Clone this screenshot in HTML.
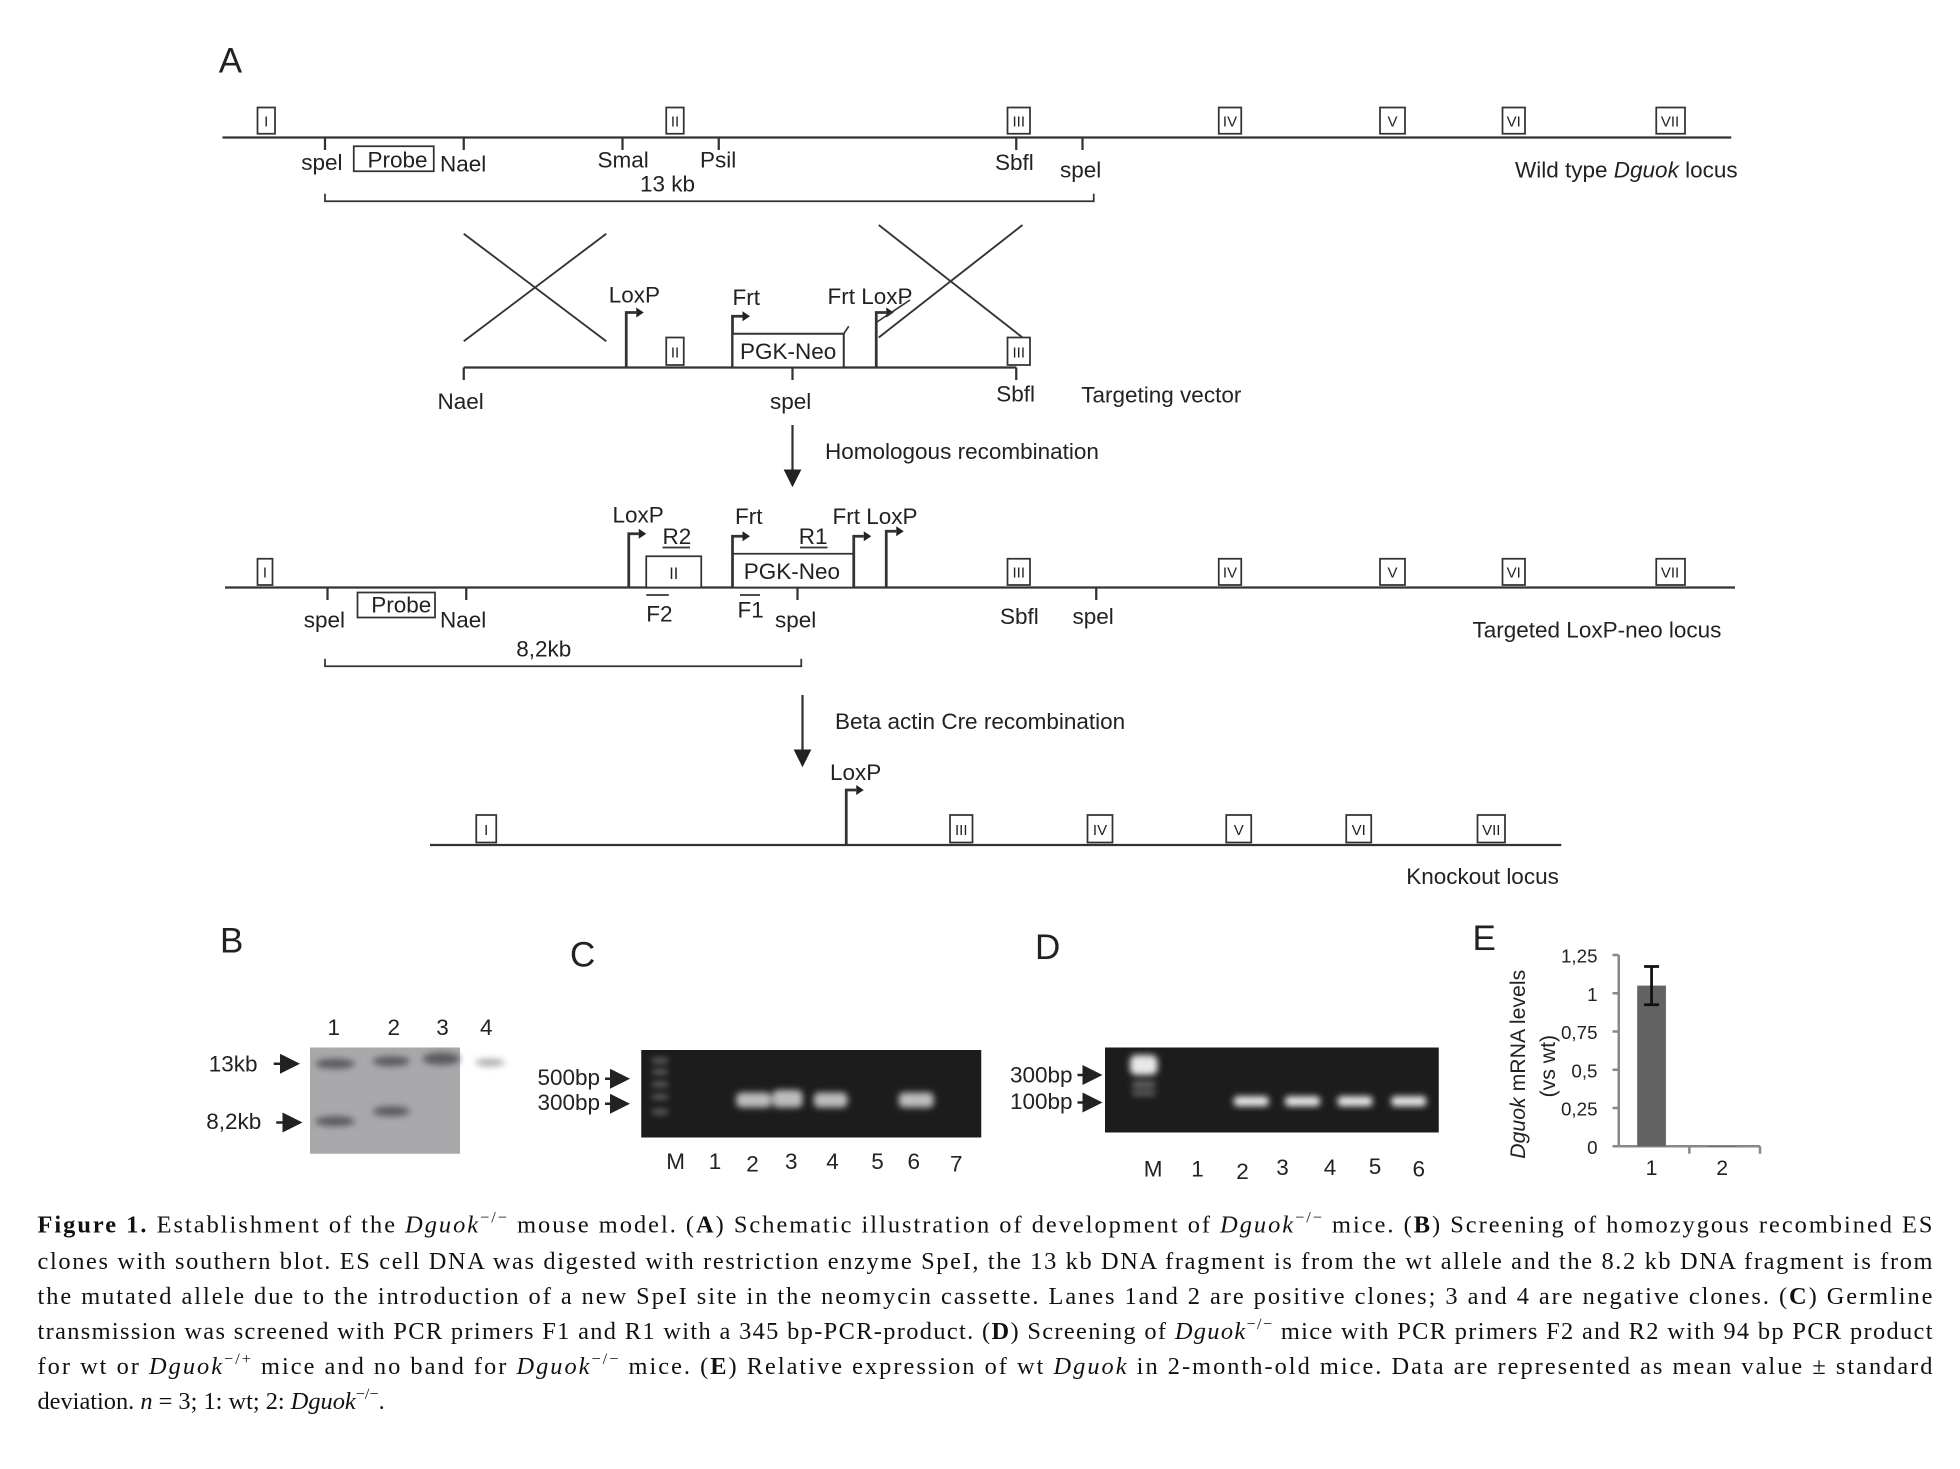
<!DOCTYPE html>
<html><head><meta charset="utf-8">
<style>
html,body{margin:0;padding:0;background:#fff;}
svg{display:block;}
.s{font-family:"Liberation Sans",sans-serif;fill:#222;}
.c{font-family:"Liberation Serif",serif;fill:#111;font-size:19.5px;}
</style></head>
<body>
<svg id="fig" width="1960" height="1469" viewBox="0 0 1568 1175.2" preserveAspectRatio="none" xmlns="http://www.w3.org/2000/svg">
<defs>
<marker id="ah" markerWidth="8" markerHeight="8" refX="7" refY="4" orient="auto"><path d="M0,0 L8,4 L0,8 z" fill="#222"/></marker>
<filter id="blur"><feGaussianBlur stdDeviation="2.5"/></filter>
</defs>
<g stroke="#333" stroke-width="1.8" fill="none">
<text class="s" x="175" y="58" font-size="28" stroke="none">A</text>
<line x1="178" y1="110" x2="1385" y2="110"/>
<g stroke-width="1.4">
<rect x="206" y="86" width="14" height="21" fill="#fff"/><rect x="533" y="86" width="14" height="21" fill="#fff"/><rect x="806" y="86" width="18" height="21" fill="#fff"/><rect x="975" y="86" width="18" height="21" fill="#fff"/><rect x="1104" y="86" width="20" height="21" fill="#fff"/><rect x="1202" y="86" width="18" height="21" fill="#fff"/><rect x="1325" y="86" width="23" height="21" fill="#fff"/>
</g>
<g class="s" font-size="12" stroke="none" text-anchor="middle"><text x="213" y="101">I</text><text x="540" y="101">II</text><text x="815" y="101">III</text><text x="984" y="101">IV</text><text x="1114" y="101">V</text><text x="1211" y="101">VI</text><text x="1336" y="101">VII</text></g>
<path d="M260,110v10M371,110v10M498,110v10M575,110v10M813,110v10M866,110v10"/>
<rect x="283" y="117" width="64" height="20" stroke-width="1.4"/>
<path d="M260,155v6H875v-6" stroke-width="1.4"/>
<g class="s" font-size="18" stroke="none">
<text x="241" y="136">spel</text><text x="294" y="134">Probe</text><text x="352" y="137">Nael</text><text x="478" y="134">Smal</text><text x="560" y="134">Psil</text><text x="512" y="153">13 kb</text><text x="796" y="136">Sbfl</text><text x="848" y="142">spel</text>
<text x="1212" y="142">Wild type <tspan font-style="italic">Dguok</tspan> locus</text>
</g>
<path d="M371,187L485,273M371,273L485,187M703,180L818,270M703,270L818,180" stroke-width="1.5"/>
<line x1="371" y1="294" x2="813" y2="294"/>
<path d="M371,294v10M634,294v10M813,294v10"/>
<path d="M501,294V250h8M586,294V253h8M701,294V250h8" stroke-width="2.2"/>
<path d="M509,246l6,4l-6,4zM594,249l6,4l-6,4zM709,246l6,4l-6,4z" fill="#222" stroke="none"/>
<rect x="533" y="270" width="14" height="22" fill="#fff" stroke-width="1.4"/><rect x="586" y="267" width="89" height="27" fill="#fff" stroke-width="1.6"/><rect x="806" y="270" width="18" height="22" fill="#fff" stroke-width="1.4"/>
<path d="M675,267l4,-6M701,258L728,240" stroke-width="1.3"/>
<g class="s" font-size="18" stroke="none">
<text x="540" y="286" font-size="12" text-anchor="middle">II</text><text x="815" y="286" font-size="12" text-anchor="middle">III</text>
<text x="592" y="287">PGK-Neo</text>
<text x="487" y="242">LoxP</text><text x="586" y="244">Frt</text><text x="662" y="243">Frt LoxP</text>
<text x="350" y="327">Nael</text><text x="616" y="327">spel</text><text x="797" y="321">Sbfl</text><text x="865" y="322">Targeting vector</text>
<text x="660" y="367">Homologous recombination</text>
</g>
<line x1="634" y1="340" x2="634" y2="388" marker-end="url(#ah)"/>
<line x1="180" y1="470" x2="1388" y2="470"/>
<g stroke-width="1.4">
<rect x="206" y="447" width="12" height="21" fill="#fff"/><rect x="517" y="445" width="44" height="25" fill="#fff"/><rect x="586" y="443" width="97" height="27" fill="#fff"/><rect x="806" y="447" width="18" height="21" fill="#fff"/><rect x="975" y="447" width="18" height="21" fill="#fff"/><rect x="1104" y="447" width="20" height="21" fill="#fff"/><rect x="1202" y="447" width="18" height="21" fill="#fff"/><rect x="1325" y="447" width="23" height="21" fill="#fff"/>
<rect x="286" y="474" width="62" height="20"/>
</g>
<path d="M262,470v10M373,470v10M638,470v10M877,470v10"/>
<path d="M503,470V427h8M586,470V429h8M683,470V429h8M709,470V425h8" stroke-width="2.2"/>
<path d="M511,423l6,4l-6,4zM594,425l6,4l-6,4zM691,425l6,4l-6,4zM717,421l6,4l-6,4z" fill="#222" stroke="none"/>
<path d="M517,476h18M592,476h16M530,438h22M640,438h22" stroke-width="1.4"/>
<path d="M260,527v6H641v-6" stroke-width="1.4"/>
<g class="s" font-size="18" stroke="none">
<text x="212" y="462" font-size="12" text-anchor="middle">I</text><text x="539" y="463" font-size="13" text-anchor="middle">II</text><text x="815" y="462" font-size="12" text-anchor="middle">III</text><text x="984" y="462" font-size="12" text-anchor="middle">IV</text><text x="1114" y="462" font-size="12" text-anchor="middle">V</text><text x="1211" y="462" font-size="12" text-anchor="middle">VI</text><text x="1336" y="462" font-size="12" text-anchor="middle">VII</text>
<text x="595" y="463">PGK-Neo</text>
<text x="490" y="418">LoxP</text><text x="588" y="419">Frt</text><text x="666" y="419">Frt LoxP</text>
<text x="530" y="435">R2</text><text x="639" y="435">R1</text>
<text x="297" y="490">Probe</text>
<text x="243" y="502">spel</text><text x="352" y="502">Nael</text><text x="517" y="497">F2</text><text x="590" y="494">F1</text><text x="620" y="502">spel</text><text x="800" y="499">Sbfl</text><text x="858" y="499">spel</text>
<text x="1178" y="510">Targeted LoxP-neo locus</text><text x="413" y="525">8,2kb</text>
<text x="668" y="583">Beta actin Cre recombination</text>
<text x="664" y="624">LoxP</text><text x="1125" y="707">Knockout locus</text>
</g>
<line x1="642" y1="556" x2="642" y2="612" marker-end="url(#ah)"/>
<line x1="344" y1="676" x2="1249" y2="676"/>
<path d="M677,676V632h8" stroke-width="2.2"/><path d="M685,628l6,4l-6,4z" fill="#222" stroke="none"/>
<g stroke-width="1.4"><rect x="381" y="652" width="16" height="22" fill="#fff"/><rect x="760" y="652" width="18" height="22" fill="#fff"/><rect x="870" y="652" width="20" height="22" fill="#fff"/><rect x="981" y="652" width="20" height="22" fill="#fff"/><rect x="1077" y="652" width="20" height="22" fill="#fff"/><rect x="1182" y="652" width="22" height="22" fill="#fff"/></g>
<g class="s" font-size="12" stroke="none" text-anchor="middle"><text x="389" y="668">I</text><text x="769" y="668">III</text><text x="880" y="668">IV</text><text x="991" y="668">V</text><text x="1087" y="668">VI</text><text x="1193" y="668">VII</text></g>
</g>

<g>
<text class="s" x="176" y="762" font-size="28">B</text>
<rect x="248" y="838" width="120" height="85" fill="#a9a9ab"/>
<g filter="url(#blur)" fill="#5a5a5e">
<ellipse cx="268" cy="851" rx="16" ry="4"/><ellipse cx="313" cy="849" rx="15" ry="4"/><ellipse cx="353" cy="847" rx="15" ry="5"/><ellipse cx="392" cy="850" rx="12" ry="3" opacity="0.5"/>
<ellipse cx="268" cy="897" rx="16" ry="4"/><ellipse cx="313" cy="889" rx="15" ry="4"/>
</g>
<g class="s" font-size="18"><text x="262" y="828">1</text><text x="310" y="828">2</text><text x="349" y="828">3</text><text x="384" y="828">4</text>
<text x="167" y="857">13kb</text><text x="165" y="903">8,2kb</text></g>
<line x1="219" y1="851" x2="238" y2="851" stroke="#222" stroke-width="2" marker-end="url(#ah)"/>
<line x1="221" y1="898" x2="240" y2="898" stroke="#222" stroke-width="2" marker-end="url(#ah)"/>
</g>

<g>
<text class="s" x="456" y="773" font-size="28">C</text>
<rect x="513" y="840" width="272" height="70" fill="#1c1c1c"/>
<g filter="url(#blur)" fill="#bdbdbd">
<rect x="522" y="847" width="12" height="3" opacity=".6"/><rect x="522" y="856" width="12" height="3" opacity=".6"/><rect x="522" y="866" width="12" height="3" opacity=".6"/><rect x="522" y="876" width="12" height="3" opacity=".6"/><rect x="522" y="888" width="12" height="3" opacity=".6"/>
<rect x="589" y="874" width="28" height="12" rx="4"/><rect x="618" y="872" width="24" height="14" rx="4"/><rect x="651" y="874" width="27" height="12" rx="4"/><rect x="719" y="874" width="28" height="12" rx="4"/>
</g>
<g class="s" font-size="18"><text x="430" y="868">500bp</text><text x="430" y="888">300bp</text>
<text x="533" y="935">M</text><text x="567" y="935">1</text><text x="597" y="937">2</text><text x="628" y="935">3</text><text x="661" y="935">4</text><text x="697" y="935">5</text><text x="726" y="935">6</text><text x="760" y="937">7</text></g>
<line x1="484" y1="863" x2="502" y2="863" stroke="#222" stroke-width="2" marker-end="url(#ah)"/>
<line x1="484" y1="883" x2="502" y2="883" stroke="#222" stroke-width="2" marker-end="url(#ah)"/>
</g>

<g>
<text class="s" x="828" y="767" font-size="28">D</text>
<rect x="884" y="838" width="267" height="68" fill="#1c1c1c"/>
<g filter="url(#blur)" fill="#e8e8e8">
<rect x="904" y="844" width="22" height="16" rx="5"/><rect x="906" y="866" width="18" height="3" opacity=".6"/><rect x="906" y="873" width="18" height="3" opacity=".5"/>
<rect x="987" y="877" width="28" height="8" rx="3"/><rect x="1028" y="877" width="28" height="8" rx="3"/><rect x="1070" y="877" width="28" height="8" rx="3"/><rect x="1113" y="877" width="28" height="8" rx="3"/>
</g>
<g class="s" font-size="18"><text x="808" y="866">300bp</text><text x="808" y="887">100bp</text>
<text x="915" y="941">M</text><text x="953" y="941">1</text><text x="989" y="943">2</text><text x="1021" y="940">3</text><text x="1059" y="940">4</text><text x="1095" y="939">5</text><text x="1130" y="941">6</text></g>
<line x1="862" y1="860" x2="880" y2="860" stroke="#222" stroke-width="2" marker-end="url(#ah)"/>
<line x1="862" y1="882" x2="880" y2="882" stroke="#222" stroke-width="2" marker-end="url(#ah)"/>
</g>

<g id="panelE">
<text class="s" x="1178" y="760" font-size="28">E</text>
<text class="s" font-size="17" transform="translate(1220,927) rotate(-90)"><tspan font-style="italic">Dguok</tspan> mRNA levels</text>
<text class="s" font-size="17" transform="translate(1244,878) rotate(-90)">(vs wt)</text>
</g>

<g>
<text class="c" x="30" y="986" textLength="1516" lengthAdjust="spacing"><tspan font-weight="bold">Figure 1.</tspan>  Establishment of the <tspan font-style="italic">Dguok</tspan><tspan font-size="13" dy="-8">−/−</tspan><tspan dy="8"> mouse model. (</tspan><tspan font-weight="bold">A</tspan>) Schematic illustration of development of <tspan font-style="italic">Dguok</tspan><tspan font-size="13" dy="-8">−/−</tspan><tspan dy="8"> mice. (</tspan><tspan font-weight="bold">B</tspan>) Screening of homozygous recombined ES</text>
<text class="c" x="30" y="1015" textLength="1516" lengthAdjust="spacing">clones with southern blot. ES cell DNA was digested with restriction enzyme SpeI, the 13 kb DNA fragment is from the wt allele and the 8.2 kb DNA fragment is from</text>
<text class="c" x="30" y="1043" textLength="1516" lengthAdjust="spacing">the mutated allele due to the introduction of a new SpeI site in the neomycin cassette. Lanes 1and 2 are positive clones; 3 and 4 are negative clones. (<tspan font-weight="bold">C</tspan>) Germline</text>
<text class="c" x="30" y="1071" textLength="1516" lengthAdjust="spacing">transmission was screened with PCR primers F1 and R1 with a 345 bp-PCR-product. (<tspan font-weight="bold">D</tspan>) Screening of <tspan font-style="italic">Dguok</tspan><tspan font-size="13" dy="-8">−/−</tspan><tspan dy="8"> mice with PCR primers F2 and R2 with 94 bp PCR product</tspan></text>
<text class="c" x="30" y="1099" textLength="1516" lengthAdjust="spacing">for wt or <tspan font-style="italic">Dguok</tspan><tspan font-size="13" dy="-8">−/+</tspan><tspan dy="8"> mice and no band for </tspan><tspan font-style="italic">Dguok</tspan><tspan font-size="13" dy="-8">−/−</tspan><tspan dy="8"> mice. (</tspan><tspan font-weight="bold">E</tspan>) Relative expression of wt <tspan font-style="italic">Dguok</tspan> in 2-month-old mice. Data are represented as mean value ± standard</text>
<text class="c" x="30" y="1127">deviation. <tspan font-style="italic">n</tspan> = 3; 1: wt; 2: <tspan font-style="italic">Dguok</tspan><tspan font-size="13" dy="-8">−/−</tspan><tspan dy="8">.</tspan></text>
</g>
</svg>
<script>
const categories = ["1", "2"];
const values = [1.05, 0.0];
const errors = [0.125, 0];
const ticks = [0, 0.25, 0.5, 0.75, 1, 1.25];
const tickLabels = ["0", "0,25", "0,5", "0,75", "1", "1,25"];

(function(){
  const NS = "http://www.w3.org/2000/svg";
  const g = document.getElementById("panelE");
  const x0 = 1295, x1 = 1408, yBase = 917, yTop = 764, yMax = 1.25;
  const y = v => yBase - (v / yMax) * (yBase - yTop);
  const band = (x1 - x0) / categories.length;
  const xc = i => x0 + band * (i + 0.5);
  function mk(tag, attrs){ const e = document.createElementNS(NS, tag); for (const k in attrs) e.setAttribute(k, attrs[k]); g.appendChild(e); return e; }
  const ya = mk("line", {x1:x0, y1:yTop, x2:x0, y2:yBase, stroke:"#888", "stroke-width":2});
  
  
  const xa = mk("line", {x1:x0, y1:yBase, x2:x1, y2:yBase, stroke:"#888", "stroke-width":2});
  
  
  ticks.forEach((t, i) => {
    mk("line", {x1:x0-5, y1:y(t), x2:x0, y2:y(t), stroke:"#888", "stroke-width":2});
    const tx = mk("text", {x:x0-17, y:y(t)+6, "text-anchor":"end", "font-size":15, class:"s"});
    tx.textContent = tickLabels[i];
    
    
  });
  categories.forEach((c, i) => {
    mk("line", {x1:x0+band*(i+1), y1:yBase, x2:x0+band*(i+1), y2:yBase+6, stroke:"#888", "stroke-width":2});
    const bw = 23;
    const b = mk("rect", {x:xc(i)-bw/2-2, y:y(values[i]), width:bw, height:Math.max(0.5, yBase - y(values[i])), fill:"#636363"});
    
    
    if (errors[i] > 0) {
      const cx = xc(i)-2;
      const e = mk("path", {d:`M${cx},${y(values[i]+errors[i])}V${y(values[i]-errors[i])}M${cx-6},${y(values[i]+errors[i])}h12M${cx-6},${y(values[i]-errors[i])}h12`, stroke:"#111", "stroke-width":2.2, fill:"none"});
      
      
    }
    const l = mk("text", {x:xc(i)-2, y:yBase+23, "text-anchor":"middle", "font-size":17, class:"s"});
    l.textContent = c;
    
    
  });
})();
</script>
</body></html>
